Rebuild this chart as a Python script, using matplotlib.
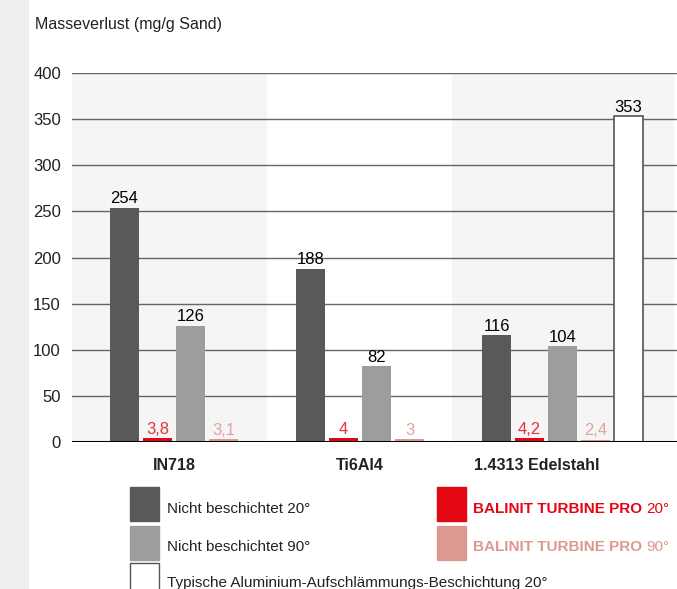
import matplotlib.pyplot as plt
from matplotlib.patches import Rectangle

plt.rcParams['font.family'] = ['Liberation Sans', 'DejaVu Sans']

W, H = 677, 589

groups = ['IN718', 'Ti6Al4', '1.4313 Edelstahl']
uncoated_20 = [254, 188, 116]
coated_20 = [3.8, 4, 4.2]
uncoated_90 = [126, 82, 104]
coated_90 = [3.1, 3, 2.4]
alu_slurry_20 = 353  # only for 1.4313 Edelstahl

c_dark = '#595958'
c_gray = '#9d9d9c'
c_red = '#e30613'
c_pink = '#dc9990'
c_red_txt = '#e6333d'
c_pink_txt = '#dea39b'


def px(x, y):
    return x / W, 1 - y / H


def fmt(v):
    return ('%g' % v).replace('.', ',')


fig = plt.figure(figsize=(W / 100, H / 100), dpi=100)
fig.patches.append(Rectangle((0, 0), 28 / W, 1, transform=fig.transFigure,
                             color='#eeeeee', zorder=0))

ax = fig.add_axes([72 / W, 147 / H, (677 - 72) / W, (442 - 73) / H])
ax.set_xlim(-0.548, 2.704)
ax.set_ylim(0, 400)

# background bands
ax.axvspan(-0.548, 0.495, color='#f5f5f5', zorder=0)
ax.axvspan(1.495, 2.68, color='#f5f5f5', zorder=0)

for yv in range(50, 401, 50):
    ax.axhline(yv, color='#666666', lw=1.0, zorder=1)
ax.axhline(0, color='black', lw=2.2, zorder=4)

bw = 29 / 186
step = 33 / 186
series = [
    (uncoated_20, c_dark, 'black', -1.5),
    (coated_20, c_red, c_red_txt, -0.5),
    (uncoated_90, c_gray, 'black', 0.5),
    (coated_90, c_pink, c_pink_txt, 1.5),
]
for vals, col, tcol, off in series:
    xs = [i + off * step for i in range(len(groups))]
    ax.bar(xs, vals, width=bw, color=col, zorder=3)
    for x, v in zip(xs, vals):
        ax.text(x, v + 1.5, fmt(v), ha='center', va='bottom', fontsize=12,
                color=tcol, zorder=5)

xw = 2 + 2.5 * step
ax.bar([xw], [alu_slurry_20], width=bw, color='white', edgecolor='#555555',
       lw=1.2, zorder=3)
ax.text(xw, alu_slurry_20 + 1.5, str(alu_slurry_20), ha='center', va='bottom',
        fontsize=12, color='black', zorder=5)

for s in ax.spines.values():
    s.set_visible(False)
ax.set_xticks([])
ax.set_yticks(range(0, 401, 50))
ax.tick_params(axis='y', length=0, pad=8, labelsize=12, colors='#222222')

label_x = [0, 1, 1.952]
for x, g in zip(label_x, groups):
    ax.text(x, -25, g, ha='center', va='center', fontsize=11.5, weight='bold',
            color='#222222')

fig.text(*px(35, 25), 'Masseverlust (mg/g Sand)', fontsize=11.5,
         ha='left', va='center', color='#222222')

# legend
def swatch(x, y, col, edge=None):
    x0, y0 = px(x, y + 34)
    fig.patches.append(Rectangle((x0, y0), 29 / W, 34 / H,
                                 transform=fig.transFigure, facecolor=col,
                                 edgecolor=edge or col, lw=1))

swatch(130, 487, c_dark)
swatch(130, 526, c_gray)
swatch(130, 563, 'white', '#555555')
swatch(437, 487, c_red)
swatch(437, 526, c_pink)

fs = 11
fig.text(*px(167, 509), 'Nicht beschichtet 20°', fontsize=fs, va='center',
         color='#222222')
fig.text(*px(167, 547), 'Nicht beschichtet 90°', fontsize=fs, va='center',
         color='#222222')
fig.text(*px(167, 583), 'Typische Aluminium-Aufschlämmungs-Beschichtung 20°',
         fontsize=fs, va='center', color='#222222')

fig.canvas.draw()
r = fig.canvas.get_renderer()
for yy, col, deg in [(509, c_red, '20°'), (547, c_pink, '90°')]:
    t = fig.text(*px(473, yy), 'BALINIT TURBINE PRO', fontsize=fs,
                 va='center', weight='bold', color=col)
    x1 = t.get_window_extent(r).x1
    fig.text((x1 + 4) / W, 1 - yy / H, deg, fontsize=fs, va='center',
             color=col)

fig.savefig('out.png', dpi=100)
